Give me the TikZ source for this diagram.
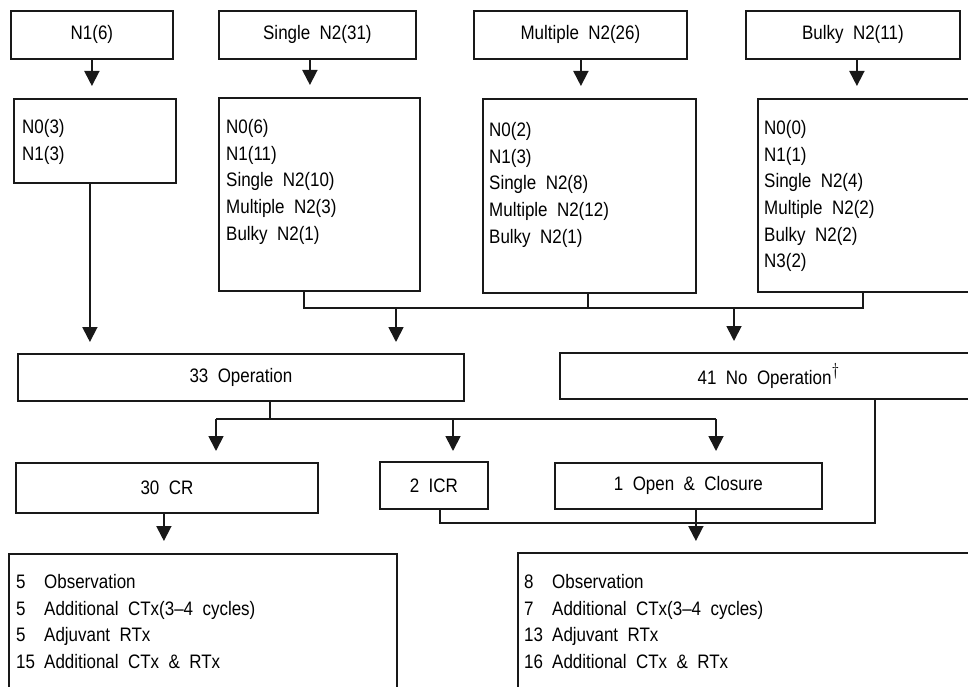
\documentclass[tikz,border=0pt]{standalone}
\usepackage{fontspec}
\setmainfont[FakeStretch=0.87,WordSpace=2]{Liberation Sans}
\usetikzlibrary{arrows.meta}
\definecolor{linecol}{RGB}{25,25,25}
\begin{document}
\begin{tikzpicture}[x=1pt,y=-1pt,
  every node/.style={font=\fontsize{19.5}{26.7}\selectfont},
  box/.style={draw=linecol,line width=1.8pt,rectangle,inner sep=0pt,anchor=north west},
  txt/.style={anchor=north west,inner sep=0pt,align=left},
  ln/.style={draw=linecol,line width=1.8pt},
  arr/.style={draw=linecol,line width=1.8pt,-{Triangle[length=15pt,width=15pt]},shorten >=12pt}]
\useasboundingbox (0,0) rectangle (968,687);
% top row
\node[box,minimum width=162pt,minimum height=48pt] (t1) at (10,10) {N1(6)};
\node[box,minimum width=197pt,minimum height=48pt] (t2) at (218,10) {Single N2(31)};
\node[box,minimum width=213pt,minimum height=48pt] (t3) at (473,10) {Multiple N2(26)};
\node[box,minimum width=214pt,minimum height=48pt] (t4) at (745,10) {Bulky N2(11)};
% second row
\node[box,minimum width=162pt,minimum height=84pt] (b1) at (13,98) {};
\node[txt] (b1t) at (22,119) {N0(3)\\N1(3)};
\node[box,minimum width=201pt,minimum height=193pt] (b2) at (218,97) {};
\node[txt] (b2t) at (226,119) {N0(6)\\N1(11)\\Single N2(10)\\Multiple N2(3)\\Bulky N2(1)};
\node[box,minimum width=213pt,minimum height=194pt] (b3) at (482,98) {};
\node[txt] (b3t) at (489,122) {N0(2)\\N1(3)\\Single N2(8)\\Multiple N2(12)\\Bulky N2(1)};
\node[box,minimum width=223pt,minimum height=193pt] (b4) at (757,98) {};
\node[txt] (b4t) at (764,120) {N0(0)\\N1(1)\\Single N2(4)\\Multiple N2(2)\\Bulky N2(2)\\N3(2)};
% top arrows
\draw[arr] (t1.south) -- (t1.south |- b1.north);
\draw[arr] ([xshift=-7.5pt]t2.south) -- ([xshift=-7.5pt]t2.south |- b2.north);
\draw[arr] ([xshift=0.5pt]t3.south) -- ([xshift=0.5pt]t3.south |- b3.north);
\draw[arr] ([xshift=4pt]t4.south) -- ([xshift=4pt]t4.south |- b4.north);
% third row
\node[box,minimum width=446pt,minimum height=47pt] (op) at (17,353) {33 Operation};
\node[box,minimum width=417pt,minimum height=46pt] (noop) at (559,352) {41 No Operation\raisebox{0.48em}{\fontsize{17}{17}\selectfont$\dagger$}};
% joins from second row
\coordinate (j1) at (304,308);
\coordinate (j2) at (863,308);
\coordinate (a1) at (396,308);
\coordinate (a2) at (734,308);
\draw[ln] (b2.south -| j1) -- (j1) -- (j2) -- (b4.south -| j2);
\draw[ln] ([xshift=-1.5pt]b3.south) -- ([xshift=-1.5pt]b3.south |- j1);
\draw[arr,shorten >=11pt] (a1) -- (a1 |- op.north);
\draw[arr,shorten >=11pt] (a2) -- (a2 |- noop.north);
\draw[arr,shorten >=11pt] ([xshift=-5pt]b1.south) -- ([xshift=-5pt]b1.south |- op.north);
% fourth row
\node[box,minimum width=302pt,minimum height=50pt] (cr) at (15,462) {30 CR};
\node[box,minimum width=108pt,minimum height=47pt] (icr) at (379,461) {2 ICR};
\node[box,minimum width=267pt,minimum height=46pt] (oc) at (554,462) {1 Open \& Closure};
\coordinate (k0) at (270,419);
\coordinate (k1) at (216,419);
\coordinate (k2) at (453,419);
\coordinate (k3) at (716,419);
\draw[ln] (op.south -| k0) -- (k0);
\draw[ln] (k1) -- (k3);
\draw[arr,shorten >=11pt] (k1) -- (k1 |- cr.north);
\draw[arr,shorten >=10pt] (k2) -- (k2 |- icr.north);
\draw[arr,shorten >=11pt] (k3) -- (k3 |- oc.north);
% bottom row
\node[box,minimum width=388pt,minimum height=160pt] (bl) at (8,553) {};
\node[txt] (blt) at (16,574) {\makebox[28pt][l]{5}Observation\\\makebox[28pt][l]{5}Additional CTx(3--4 cycles)\\\makebox[28pt][l]{5}Adjuvant RTx\\\makebox[28pt][l]{15}Additional CTx \& RTx};
\node[box,minimum width=470pt,minimum height=160pt] (br) at (517,552) {};
\node[txt] (brt) at (524,574) {\makebox[28pt][l]{8}Observation\\\makebox[28pt][l]{7}Additional CTx(3--4 cycles)\\\makebox[28pt][l]{13}Adjuvant RTx\\\makebox[28pt][l]{16}Additional CTx \& RTx};
\coordinate (m1) at (440,523);
\coordinate (m2) at (875,523);
\draw[ln] (icr.south -| m1) -- (m1) -- (m2) -- (noop.south -| m2);
\draw[arr] ([xshift=-3pt]cr.south) -- ([xshift=-3pt]cr.south |- bl.north);
\draw[arr,shorten >=11pt] ([xshift=7.5pt]oc.south) -- ([xshift=7.5pt]oc.south |- br.north);
\end{tikzpicture}
\end{document}
